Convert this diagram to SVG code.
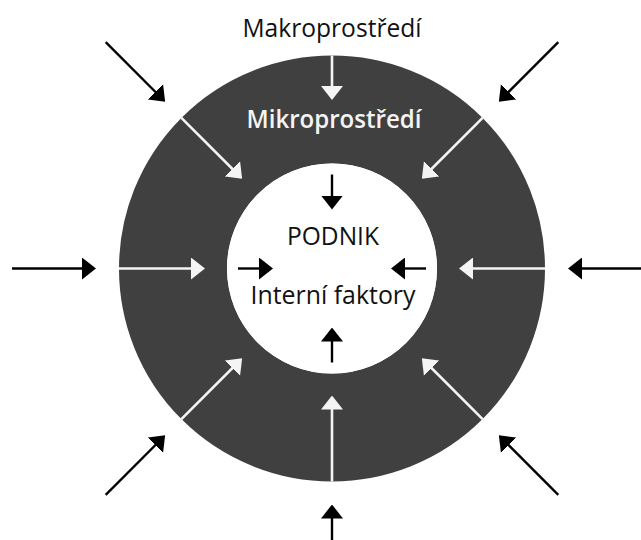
<svg xmlns="http://www.w3.org/2000/svg" width="641" height="540" viewBox="0 0 641 540">
  <style>
    .lbl { font-family: "Open Sans", "Noto Sans", "Liberation Sans", sans-serif; font-size: 25px; text-anchor: middle; }
    .dark { fill: #111; }
    .light { fill: #f4f4f4; font-weight: 600; }
    .blk { stroke: #000; stroke-width: 2.4; fill: none; marker-end: url(#hb); }
    .wht { stroke: #f4f4f4; stroke-width: 2.6; fill: none; marker-end: url(#hw); }
  </style>
  <defs>
    <marker id="hb" markerUnits="userSpaceOnUse" markerWidth="14" markerHeight="22" viewBox="0 0 14 22" refX="6" refY="11" orient="auto">
      <path d="M0,0 L14,11 L0,22 z" fill="#000"/>
    </marker>
    <marker id="hw" markerUnits="userSpaceOnUse" markerWidth="14" markerHeight="22" viewBox="0 0 14 22" refX="6" refY="11" orient="auto">
      <path d="M0,0 L14,11 L0,22 z" fill="#f4f4f4"/>
    </marker>
  </defs>
  <rect width="641" height="540" fill="#fff"/>

  <g id="ring">
    <circle cx="332" cy="268.5" r="159" fill="none" stroke="#404040" stroke-width="108"/>
  </g>
  <g id="inner">
    <circle cx="332" cy="268.5" r="105" fill="#fff"/>
  </g>

  <g id="connectors">
    <line class="blk" x1="105.7" y1="42.2" x2="159.5" y2="96"/>
    <line class="blk" x1="558.3" y1="42.2" x2="504.5" y2="96"/>
    <line class="blk" x1="12" y1="268.5" x2="88" y2="268.5"/>
    <line class="blk" x1="641" y1="268.5" x2="576" y2="268.5"/>
    <line class="blk" x1="105.7" y1="494.8" x2="159.5" y2="441"/>
    <line class="blk" x1="558.3" y1="494.8" x2="504.5" y2="441"/>
    <line class="blk" x1="332" y1="540" x2="332" y2="512.5"/>
    <line class="wht" x1="332" y1="55.5" x2="332" y2="92"/>
    <line class="wht" x1="181.4" y1="117.9" x2="236.5" y2="173"/>
    <line class="wht" x1="482.6" y1="117.9" x2="427.5" y2="173"/>
    <line class="wht" x1="119" y1="268.5" x2="197" y2="268.5"/>
    <line class="wht" x1="545" y1="268.5" x2="467" y2="268.5"/>
    <line class="wht" x1="181.4" y1="419.1" x2="236.5" y2="364"/>
    <line class="wht" x1="482.6" y1="419.1" x2="427.5" y2="364"/>
    <line class="wht" x1="332" y1="481.5" x2="332" y2="403.5"/>
    <line class="blk" x1="332" y1="174.5" x2="332" y2="201.5"/>
    <line class="blk" x1="332" y1="362.5" x2="332" y2="335.5"/>
    <line class="blk" x1="238" y1="268.5" x2="265" y2="268.5"/>
    <line class="blk" x1="426" y1="268.5" x2="399" y2="268.5"/>
  </g>

  <g id="makro">
    <text class="lbl dark" x="332" y="37" textLength="179" lengthAdjust="spacingAndGlyphs">Makroprostředí</text>
  </g>
  <g id="mikro">
    <text class="lbl light" x="334" y="128" textLength="175" lengthAdjust="spacingAndGlyphs">Mikroprostředí</text>
  </g>
  <g id="podnik">
    <text class="lbl dark" x="333" y="245" textLength="92" lengthAdjust="spacingAndGlyphs">PODNIK</text>
    <text class="lbl dark" x="333" y="304" textLength="165" lengthAdjust="spacingAndGlyphs">Interní faktory</text>
  </g>
</svg>
